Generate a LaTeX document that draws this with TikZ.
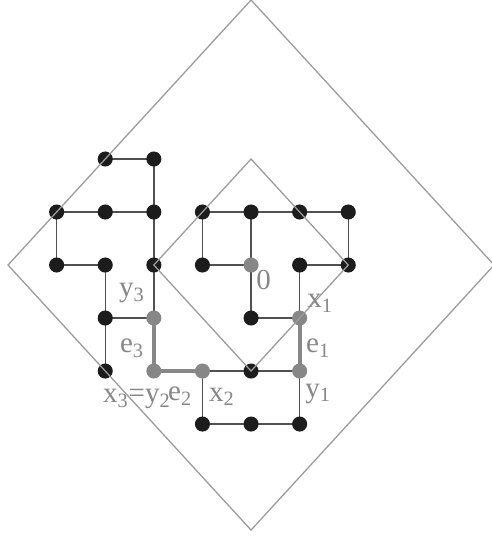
\documentclass[tikz,border=0pt]{standalone}
\usepackage{fontspec}
\setmainfont{Liberation Serif}
\usepackage{xcolor}
\usepackage{tikz}
\usetikzlibrary{backgrounds}
\definecolor{dotblack}{RGB}{28,28,28}
\definecolor{walkgray}{RGB}{135,135,135}
\definecolor{edgegray}{RGB}{80,80,80}
\definecolor{boxgray}{RGB}{155,155,155}
\definecolor{labgray}{RGB}{135,135,135}

\begin{document}
\begin{tikzpicture}[
  x=1cm, y=1.0905cm,
  dot/.style={circle, fill=dotblack, inner sep=0pt, minimum size=0.31cm},
  gdot/.style={dot, fill=walkgray},
  edge/.style={draw=edgegray, line width=0.8pt},
  walk/.style={draw=walkgray, line width=2.4pt},
  box/.style={draw=boxgray, line width=0.75pt},
  lab/.style={text=labgray, font=\fontsize{17}{17}\selectfont, inner sep=0pt},
]
\useasboundingbox (-5.165,-5.15) rectangle (4.94,5.0);

%% lattice sites (columns a..g, rows 1..6)
\foreach \n/\i/\j in {b6/-3/2, c6/-2/2,
    a5/-4/1, b5/-3/1, c5/-2/1, d5/-1/1, e5/0/1, f5/1/1, g5/2/1,
    a4/-4/0, b4/-3/0, c4/-2/0, d4/-1/0, f4/1/0, g4/2/0,
    b3/-3/-1, e3/0/-1,
    b2/-3/-2, e2/0/-2,
    d1/-1/-3, e1/0/-3, f1/1/-3}
  \node[dot] (\n) at (\i,\j) {};
\foreach \n/\i/\j in {e4/0/0, c3/-2/-1, f3/1/-1, c2/-2/-2, d2/-1/-2, f2/1/-2}
  \node[gdot] (\n) at (\i,\j) {};

%% bonds
\begin{scope}[on background layer]
\foreach \a/\b in {b6/c6, c6/c5, a5/b5, b5/c5, c5/c4, c4/c3, a5/a4, a4/b4,
    b4/b3, b3/b2, b3/c3, d2/e2, e2/f2, f3/f4, f4/g4, g4/g5, f5/g5, e5/f5,
    d5/e5, d5/d4, d4/e4, e5/e4, e4/e3, e3/f3, d2/d1, d1/e1, e1/f1, f1/f2}
  \draw[edge] (\a.center) -- (\b.center);
\draw[walk] (c3.center) -- (c2.center) -- (d2.center);
\draw[walk] (f2.center) -- (f3.center);
\end{scope}

%% boxes
\draw[box] (0,5) -- (5,0) -- (0,-5) -- (-5,0) -- cycle;
\draw[box] (0,2) -- (2,0) -- (0,-2) -- (-2,0) -- cycle;

%% labels
\node[lab] (l0) at (0.26,-0.29) {0};
\node[lab] (lx1) at (1.42,-0.72) {x\textsubscript{1}};
\node[lab] (le1) at (1.38,-1.57) {e\textsubscript{1}};
\node[lab] (ly1) at (1.38,-2.43) {y\textsubscript{1}};
\node[lab] (ly3) at (-2.45,-0.53) {y\textsubscript{3}};
\node[lab] (le3) at (-2.45,-1.57) {e\textsubscript{3}};
\node[lab] (lx3) at (-2.35,-2.53) {x\textsubscript{3}=y\textsubscript{2}};
\node[lab] (le2) at (-1.46,-2.47) {e\textsubscript{2}};
\node[lab] (lx2) at (-0.60,-2.49) {x\textsubscript{2}};

\end{tikzpicture}
\end{document}
